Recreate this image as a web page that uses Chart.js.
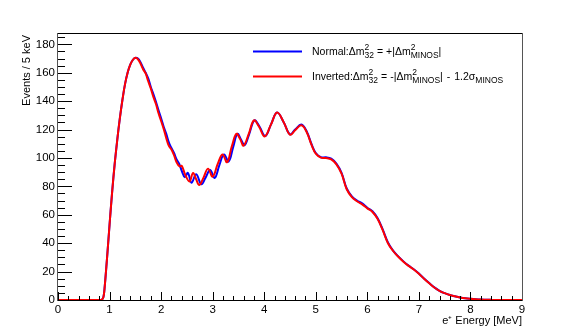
<!DOCTYPE html>
<html><head><meta charset="utf-8">
<script src="https://cdn.jsdelivr.net/npm/chart.js@4.4.1/dist/chart.umd.min.js"></script>
<style>html,body{margin:0;padding:0;background:#fff;overflow:hidden}canvas{display:block}</style>
</head><body>
<canvas id="c" width="581" height="334"></canvas>
<script>
const xTickLabels = ['0','1','2','3','4','5','6','7','8','9'];
const yTickLabels = ['0','20','40','60','80','100','120','140','160','180'];
const xTitle = 'e\u207A Energy [MeV]';
const yTitle = 'Events / 5 keV';

const energyNormal = [0,0.5,0.8,0.85,0.88,0.9,0.95,1.0,1.05,1.1,1.15,1.2,1.25,1.3,1.35,1.4,1.45,1.5,
  1.55,1.6,1.65,1.7,1.75,1.8,1.85,1.9,1.95,2.0,2.05,2.1,2.15,2.2,2.25,2.3,2.35,2.4,
  2.46,2.52,2.59,2.68,2.78,2.86,2.95,3.04,3.13,3.22,3.31,3.4,3.48,3.55,3.62,3.71,3.81,3.91,4.02,4.13,4.25,4.38,4.5,4.6,4.72,4.82,4.92,
  5.0,5.1,5.2,5.3,5.4,5.5,5.6,5.7,5.8,5.9,6.0,6.1,6.2,6.3,6.4,6.5,6.6,6.7,6.8,6.9,
  7.0,7.1,7.2,7.3,7.4,7.5,7.6,7.7,7.8,7.9,8.0,8.1,8.2,8.3,8.4,8.6,9.0];
const eventsNormal = [0,0,0,0.3,2,7,29,53,76,96,113,128,141,152,160,165.5,169,170.5,
  170,167.5,163.5,160,156,150,145,139.5,133.5,128,122,117,111,107,103.5,99,96,91,
  86.5,89.5,82.5,88.5,81.5,86,91.5,86,95,102.5,97.5,108,117,113,109,117,126.5,122,115.5,123.5,132,125,116.6,120,123.5,119,109.5,
  103.5,100.5,100.5,99.5,96,89.5,78.5,73,70,68,65,62.5,57.5,49.5,40.5,34.8,30.7,27.2,24.2,21.6,
  18.6,15.1,11.9,8.9,6.5,4.8,3.5,2.6,1.8,1.2,0.8,0.5,0.3,0.2,0.1,0,0];

const energyInverted = [0,0.5,0.8,0.85,0.88,0.9,0.95,1.0,1.05,1.1,1.15,1.2,1.25,1.3,1.35,1.4,1.45,1.5,
  1.55,1.6,1.65,1.7,1.75,1.8,1.85,1.9,1.95,2.0,2.05,2.1,2.15,2.2,2.25,2.3,
  2.36,2.4,2.47,2.55,2.62,2.68,2.74,2.82,2.91,3.0,3.1,3.19,3.28,3.37,3.46,3.53,3.6,3.7,3.8,3.9,4.01,4.13,4.25,4.38,4.5,4.6,4.72,4.82,4.92,
  5.0,5.1,5.2,5.3,5.4,5.5,5.6,5.7,5.8,5.9,6.0,6.1,6.2,6.3,6.4,6.5,6.6,6.7,6.8,6.9,
  7.0,7.1,7.2,7.3,7.4,7.5,7.6,7.7,7.8,7.9,8.0,8.1,8.2,8.3,8.4,8.6,9.0];
const eventsInverted = [0,0,0,0.3,2,7,29,53,76,96,113,128,141,152,160,165.5,169,170.5,
  169.5,166.5,162.5,159.5,154,149,143,138,131.5,126,120.5,114,108.5,106,102,97,
  94,94.5,88,83.5,89.5,85,81,86,92.5,86.8,96,102.5,97,108,117,113.5,108.7,117,126.5,122,115.2,123.5,132,125,116.4,119.5,123,118.5,109,
  103,100.2,100,99,95.5,89,78,72.5,69.5,67.3,64.5,62,57,49,40,34.5,30.5,27,24,21.5,
  18.5,15,11.8,8.8,6.5,4.8,3.5,2.6,1.8,1.2,0.8,0.5,0.3,0.2,0.1,0,0];

function pts(xs, ys){ const n=Math.min(xs.length, ys.length); const o=[]; for(let i=0;i<n;i++) o.push({x:xs[i], y:ys[i]}); return o; }

const FONT = '"Liberation Sans", Arial, Helvetica, sans-serif';

function drawRich(ctx, x, y, segs, size, small){
  for (const s of segs){
    if (s.gap){ x += s.gap; continue; }
    if (s.t !== undefined){
      ctx.font = size + 'px ' + FONT;
      ctx.fillText(s.t, x, y);
      x += ctx.measureText(s.t).width;
    } else {
      ctx.font = small + 'px ' + FONT;
      let w = 0;
      if (s.sup){ ctx.fillText(s.sup, x, y - size*0.45); w = Math.max(w, ctx.measureText(s.sup).width); }
      if (s.sub){ ctx.fillText(s.sub, x, y + size*0.3); w = Math.max(w, ctx.measureText(s.sub).width); }
      x += w;
    }
  }
}

const decor = {
  id: 'decor',
  afterDraw(chart){
    const ctx = chart.ctx, a = chart.chartArea;
    const xs = chart.scales.x, ys = chart.scales.y;
    ctx.save();
    ctx.strokeStyle = '#000'; ctx.lineWidth = 1;
    ctx.beginPath();
    for (let i=0;i<=45;i++){
      const v = i*0.2; const px = Math.round(xs.getPixelForValue(v)) + 0.5;
      const len = (i%5===0) ? 8 : 4;
      ctx.moveTo(px, a.bottom); ctx.lineTo(px, a.bottom - len);
    }
    for (let i=0;i<=37;i++){
      const v = i*5; const py = Math.round(ys.getPixelForValue(v)) + 0.5;
      const len = (i%4===0) ? 14 : 7;
      ctx.moveTo(a.left, py); ctx.lineTo(a.left + len, py);
    }
    ctx.stroke();
    ctx.strokeStyle = '#000';
    ctx.beginPath();
    ctx.moveTo(a.left-0.5, a.top+0.5); ctx.lineTo(a.right+0.5, a.top+0.5);
    ctx.moveTo(a.left-0.5, a.bottom+0.5); ctx.lineTo(a.right+0.5, a.bottom+0.5);
    ctx.stroke();
    ctx.strokeStyle = '#555';
    ctx.beginPath();
    ctx.moveTo(a.left-0.5, a.top); ctx.lineTo(a.left-0.5, a.bottom+1);
    ctx.moveTo(a.right+0.5, a.top); ctx.lineTo(a.right+0.5, a.bottom+1);
    ctx.stroke();
    ctx.fillStyle = '#000';
    ctx.font = '11px ' + FONT;
    ctx.textAlign = 'right'; ctx.textBaseline = 'alphabetic';
    ctx.fillText(xTitle, a.right, 324);
    ctx.save();
    ctx.translate(30, a.top + 2);
    ctx.rotate(-Math.PI/2);
    ctx.fillText(yTitle, 0, 0);
    ctx.restore();
    const lx0 = 253, lx1 = 302;
    ctx.lineWidth = 2;
    ctx.strokeStyle = '#0000ff';
    ctx.beginPath(); ctx.moveTo(lx0, 51.5); ctx.lineTo(lx1, 51.5); ctx.stroke();
    ctx.strokeStyle = '#ff0000';
    ctx.beginPath(); ctx.moveTo(lx0, 76.5); ctx.lineTo(lx1, 76.5); ctx.stroke();
    ctx.textAlign = 'left'; ctx.fillStyle = '#000';
    drawRich(ctx, 312, 55, [
      {t:'Normal:'},{t:'\u0394m'},{sup:'2',sub:'32'},{gap:3},{t:'='},{gap:3},{t:'+|\u0394m'},{sup:'2',sub:'MINOS'},{t:'|'}
    ], 10.5, 8.5);
    drawRich(ctx, 312, 80, [
      {t:'Inverted:'},{t:'\u0394m'},{sup:'2',sub:'32'},{gap:3},{t:'='},{gap:3},{t:'-|\u0394m'},{sup:'2',sub:'MINOS'},{t:'|'},{gap:4},{t:'-'},{gap:4},{t:'1.2\u03C3'},{sub:'MINOS'}
    ], 10.5, 8.5);
    ctx.restore();
  }
};

new Chart(document.getElementById('c'), {
  type: 'line',
  data: {
    datasets: [
      { label: 'Normal', order: 1, data: pts(energyNormal, eventsNormal), borderColor: '#0000ff', borderWidth: 2,
        pointRadius: 0, fill: false, tension: 0.4 },
      { label: 'Inverted', order: 0, data: pts(energyInverted, eventsInverted), borderColor: '#ff0000', borderWidth: 2,
        pointRadius: 0, fill: false, tension: 0.4 }
    ]
  },
  options: {
    responsive: false, devicePixelRatio: 1, animation: false,
    layout: { padding: { left: 0, right: 59, top: 33, bottom: 0 } },
    plugins: { legend: { display: false }, tooltip: { enabled: false } },
    scales: {
      x: {
        type: 'linear', min: 0, max: 9,
        afterFit(s){ s.height = 34; },
        grid: { display: false, drawTicks: false }, border: { display: false },
        ticks: { stepSize: 1, padding: 3, color: '#000', maxRotation: 0, autoSkip: false,
          font: { family: FONT, size: 11.5 },
          callback: (v) => xTickLabels[Math.round(v)] ?? '' }
      },
      y: {
        type: 'linear', min: 0, max: 188,
        afterFit(s){ s.width = 58; },
        grid: { display: false, drawTicks: false }, border: { display: false },
        ticks: { stepSize: 20, includeBounds: false, padding: 3, color: '#000', autoSkip: false,
          font: { family: FONT, size: 11.5 },
          callback: (v) => yTickLabels[Math.round(v/20)] ?? '' }
      }
    }
  },
  plugins: [decor]
});
</script>
</body></html>
